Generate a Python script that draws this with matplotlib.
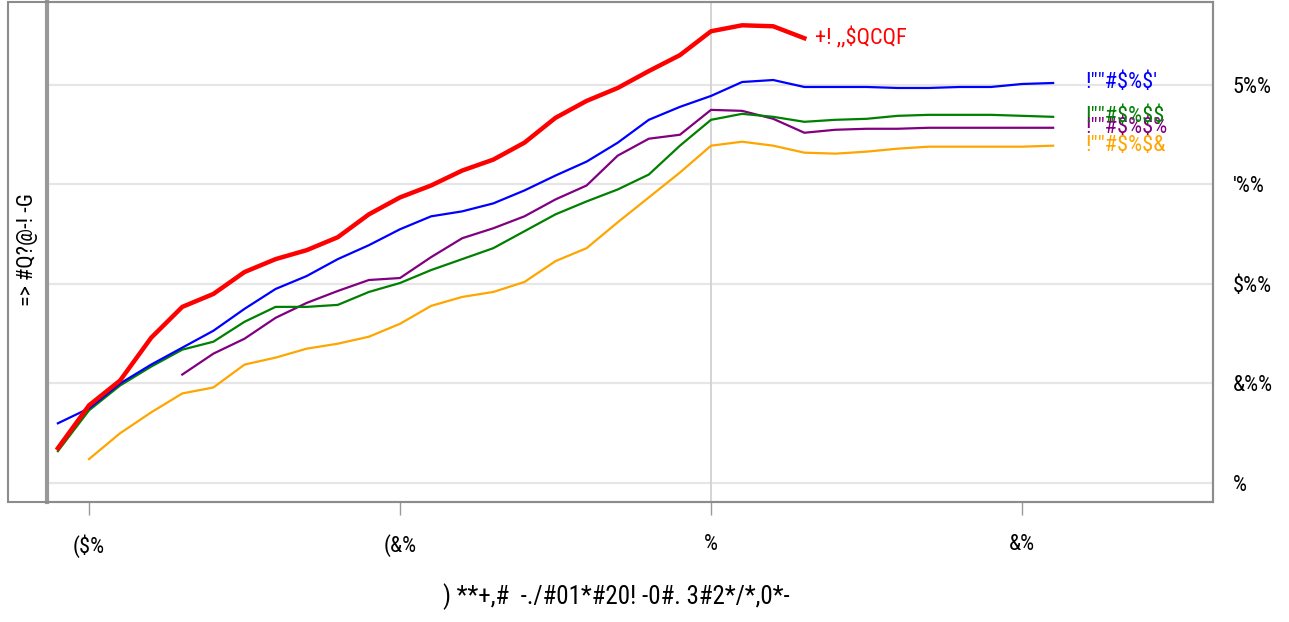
import matplotlib
matplotlib.use('Agg')
import matplotlib.pyplot as plt
from matplotlib.patches import Rectangle

# * ----- Data ---------------------------------------------------------------
x_red = list(range(-21, 4))
y_red = [35, 78, 103, 146, 177, 190, 212, 225, 234, 247, 270, 287, 299, 314,
         325, 342, 367, 384, 397, 414, 430, 454, 460, 459, 447]

x_blue = list(range(-21, 12))
y_blue = [60, 75, 100, 119, 136, 153, 175, 195, 208, 225, 239, 255, 268, 273,
          281, 294, 309, 323, 342, 365, 378, 389, 403, 405, 398, 398, 398, 397,
          397, 398, 398, 401, 402]

x_green = list(range(-21, 12))
y_green = [32, 73, 98, 117, 134, 142, 162, 177, 177, 179, 192, 201, 214, 225,
           236, 253, 270, 283, 295, 310, 339, 365, 371, 368, 363, 365, 366, 369,
           370, 370, 370, 369, 368]

x_purple = list(range(-17, 12))
y_purple = [109, 130, 145, 166, 181, 193, 204, 206, 227, 246, 256, 268, 285,
            299, 329, 346, 350, 375, 374, 366, 352, 355, 356, 356, 357, 357,
            357, 357, 357]

x_orange = list(range(-20, 12))
y_orange = [24, 50, 71, 90, 96, 119, 126, 135, 140, 147, 160, 178, 187, 192,
            202, 223, 236, 262, 287, 312, 339, 343, 339, 332, 331, 333, 336,
            338, 338, 338, 338, 339]

label_red = '+! ,,$QCQF'
label_blue = '!""#$%$\''
label_green = '!""#$%$$'
label_purple = '!""#$%$%'
label_orange = '!""#$%$&'

x_ticks = [-20, -10, 0, 10]
x_tick_labels = ['($%', '(&%', '%', '&%']
y_ticks = [0, 100, 200, 300, 400]
y_tick_labels = ['%', '&%%', '$%%', '\'%%', '5%%']

x_title = ') **+,#  -./#01*#20! -0#. 3#2*/*,0*-'
y_title = '=> #Q?@-! -G'

# * ----- Plot ---------------------------------------------------------------
plt.rcParams['text.parse_math'] = False
plt.rcParams['font.family'] = ['Liberation Sans Narrow', 'Roboto Condensed',
                               'Liberation Sans', 'DejaVu Sans']
W, H = 1289, 622
fig = plt.figure(figsize=(W / 100, H / 100), dpi=100)
ax = fig.add_axes([47 / W, 1 - 502 / H, (1213 - 47) / W, 500 / H])

ax.set_xlim(-21.35, 16.14)
ax.set_ylim(-19.1, 483.4)

for yv in y_ticks:
    ax.axhline(yv, color='#e6e6e6', lw=1.6, zorder=0)
ax.axvline(0, color='#d4d4d4', lw=1.4, zorder=0)

series = [
    (x_orange, y_orange, 'orange', label_orange),
    (x_purple, y_purple, 'purple', label_purple),
    (x_green, y_green, 'green', label_green),
    (x_blue, y_blue, 'blue', label_blue),
]
for xs, ys, c, lab in series:
    ax.plot(xs, ys, color=c, lw=1.6)
    ax.annotate(lab, (xs[-1], ys[-1]), xytext=(23, 0), textcoords='offset points',
                color=c, fontsize=16, va='center', ha='left')

ax.plot(x_red, y_red, color='red', lw=3.2)
ax.annotate(label_red, (x_red[-1], y_red[-1]), xytext=(8, 0), textcoords='offset points',
            color='red', fontsize=16, va='center', ha='left')

ax.set_xticks(x_ticks)
ax.set_xticklabels(x_tick_labels, fontsize=16)
ax.yaxis.tick_right()
ax.set_yticks(y_ticks)
ax.set_yticklabels(y_tick_labels, fontsize=16)
ax.tick_params(axis='x', length=9, width=1, color='#999999', pad=14)
ax.tick_params(axis='y', length=0, pad=14)

for side in ['top', 'right', 'bottom']:
    ax.spines[side].set_color('#8c8c8c')
    ax.spines[side].set_linewidth(1.5)
ax.spines['left'].set_color('#999999')
ax.spines['left'].set_linewidth(3)

# outer frame holding the y title
fig.patches.append(Rectangle((8 / W, 1 - 502 / H), (1213 - 8) / W, 500 / H,
                             transform=fig.transFigure, fill=False,
                             edgecolor='#8c8c8c', lw=1.5))

fig.text(27 / W, 1 - 250 / H, y_title, rotation=90, fontsize=16,
         ha='center', va='center')
fig.text(616 / W, 1 - 597 / H, x_title, fontsize=18, ha='center', va='center')

fig.savefig('out.png', dpi=100)
